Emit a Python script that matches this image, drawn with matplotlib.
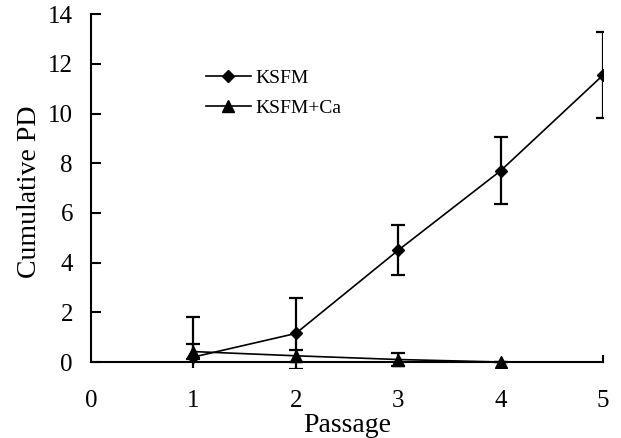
import matplotlib
matplotlib.use("Agg")
import matplotlib.pyplot as plt

passage = [1, 2, 3, 4, 5]
ksfm = [0.2, 1.15, 4.5, 7.7, 11.55]
ksfm_err = [1.62, 1.42, 1.0, 1.35, 1.73]

passage_ca = [1, 2, 3, 4]
ksfm_ca = [0.42, 0.25, 0.1, 0.0]
ksfm_ca_err = [0.3, 0.23, 0.28, 0.0]

xticks = [0, 1, 2, 3, 4, 5]
yticks = [0, 2, 4, 6, 8, 10, 12, 14]

fig = plt.figure(figsize=(6.21, 4.38), dpi=100)
ybot = 362 + 0.25 * 24.86
ax = fig.add_axes([91/621, (438-ybot)/438, (603-91)/621, (ybot-14.3)/438])

serif = "Liberation Serif"

c1 = ax.errorbar(passage, ksfm, yerr=ksfm_err, color="black", lw=1.2,
                 marker="D", markersize=6.5, capsize=4.7, elinewidth=1.6, capthick=1.6)
c2 = ax.errorbar(passage_ca, ksfm_ca, yerr=ksfm_ca_err, color="black", lw=1.2,
                 marker="^", markersize=8, capsize=4.7, elinewidth=1.6, capthick=1.6)

ax.set_xlim(0, 5)
ax.set_ylim(-0.25, 14)
ax.spines["top"].set_visible(False)
ax.spines["right"].set_bounds(0, 0.25)
ax.spines["right"].set_linewidth(1.5)
ax.spines["left"].set_bounds(0, 14)
ax.spines["left"].set_linewidth(1.5)
ax.spines["bottom"].set_position(("data", 0))
ax.spines["bottom"].set_linewidth(1.5)

ax.set_xticks(xticks)
ax.set_yticks(yticks)
ax.tick_params(axis="y", direction="in", length=7, width=1.5, pad=13)
ax.tick_params(axis="x", length=0, pad=20)
for lab in ax.get_xticklabels() + ax.get_yticklabels():
    lab.set_fontfamily(serif)
    lab.set_fontsize(18)

ax.set_xlabel("Passage", fontfamily=serif, fontsize=20, labelpad=1)
ax.set_ylabel("Cumulative PD", fontfamily=serif, fontsize=20, labelpad=4)

leg = ax.legend([c1[0], c2[0]], ["KSFM", "KSFM+Ca"], loc="upper left",
                bbox_to_anchor=(206/621, 1-69/438),
                bbox_transform=fig.transFigure, frameon=False,
                prop={"family": serif, "size": 14}, handlelength=2.3,
                borderpad=0, borderaxespad=0, handletextpad=0.26, labelspacing=0.66)

fig.savefig("out.png", dpi=100)
